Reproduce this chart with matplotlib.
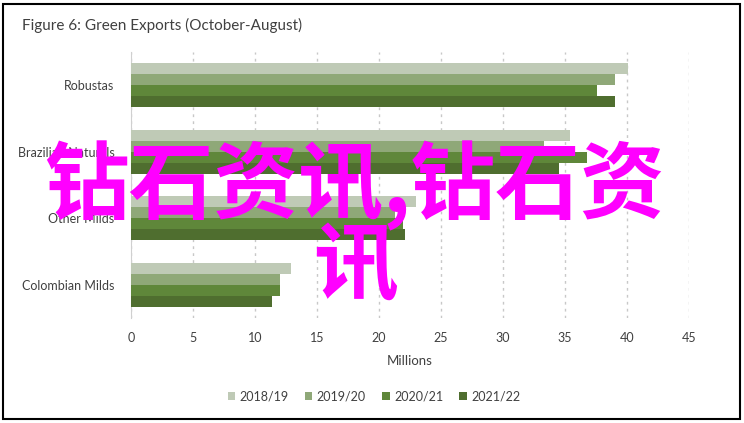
import numpy as np
import matplotlib
matplotlib.use("Agg")
import matplotlib.pyplot as plt
from matplotlib.patches import Rectangle

# data
categories = ["Robustas", "Brazilian Naturals", "Other Milds", "Colombian Milds"]
seasons = ["2018/19", "2019/20", "2020/21", "2021/22"]
exports_1819 = [40.1, 35.4, 23.0, 12.9]
exports_1920 = [39.0, 33.3, 21.3, 12.0]
exports_2021 = [37.6, 36.8, 21.9, 12.05]
exports_2122 = [39.0, 34.5, 22.1, 11.4]
colors = ["#bfcab6", "#8fa878", "#5f873a", "#4f6e2f"]
x_ticks = [0, 5, 10, 15, 20, 25, 30, 35, 40, 45]

plt.rcParams['font.family'] = ['Lato', 'DejaVu Sans']

fig = plt.figure(figsize=(7.44, 4.23), dpi=100)
ax = fig.add_axes([131 / 744, 1 - 318 / 423, (689 - 131) / 744, (318 - 52) / 423])

series = [exports_1819, exports_1920, exports_2021, exports_2122]
y = np.arange(len(categories))
h = 0.1667
for i, vals in enumerate(series):
    ax.barh(y - 1.5 * h + i * h, vals, height=h, color=colors[i],
            label=seasons[i], zorder=3)

ax.set_xlim(0, 45)
ax.set_ylim(3.5, -0.5)
ax.set_xticks(x_ticks)
ax.set_yticks(y)
ax.set_yticklabels(categories)
ax.tick_params(axis='both', length=0, labelsize=9, colors="#404040")
ax.tick_params(axis='x', pad=10)
ax.tick_params(axis='y', pad=12)
ax.xaxis.grid(True, linestyle=(0, (2, 3)), color="#c8c8c8", linewidth=1, zorder=0)
for s in ["top", "right", "bottom"]:
    ax.spines[s].set_visible(False)
ax.spines["left"].set_color("#d0d0d0")
ax.set_xlabel("Millions", fontsize=9.5, color="#404040", labelpad=8)

leg = fig.legend(loc="center", bbox_to_anchor=(374 / 744, 1 - 396 / 423), ncol=4,
                 frameon=False, fontsize=9, handlelength=0.6, handleheight=0.6,
                 handletextpad=0.35, columnspacing=1.3)
for t in leg.get_texts():
    t.set_color("#404040")

fig.text(22 / 744, 1 - 25 / 423, "Figure 6: Green Exports (October-August)",
         fontsize=11, color="#404040", va="center", ha="left")

# outer frame
fig.patches.append(Rectangle((3 / 744, 4 / 423), 737 / 744, 415 / 423,
                             transform=fig.transFigure, fill=False,
                             edgecolor="black", linewidth=1.5))

# watermark overlay
fig.text(355 / 744, 1 - 226 / 423, "钻石资讯,钻石资\n讯", fontsize=61,
         color="#ff00ff", ha="center", va="center", multialignment="center",
         linespacing=0.9, family=['Noto Sans CJK SC', 'DejaVu Sans'],
         weight="bold", zorder=10)

fig.savefig("out.png", dpi=100)
